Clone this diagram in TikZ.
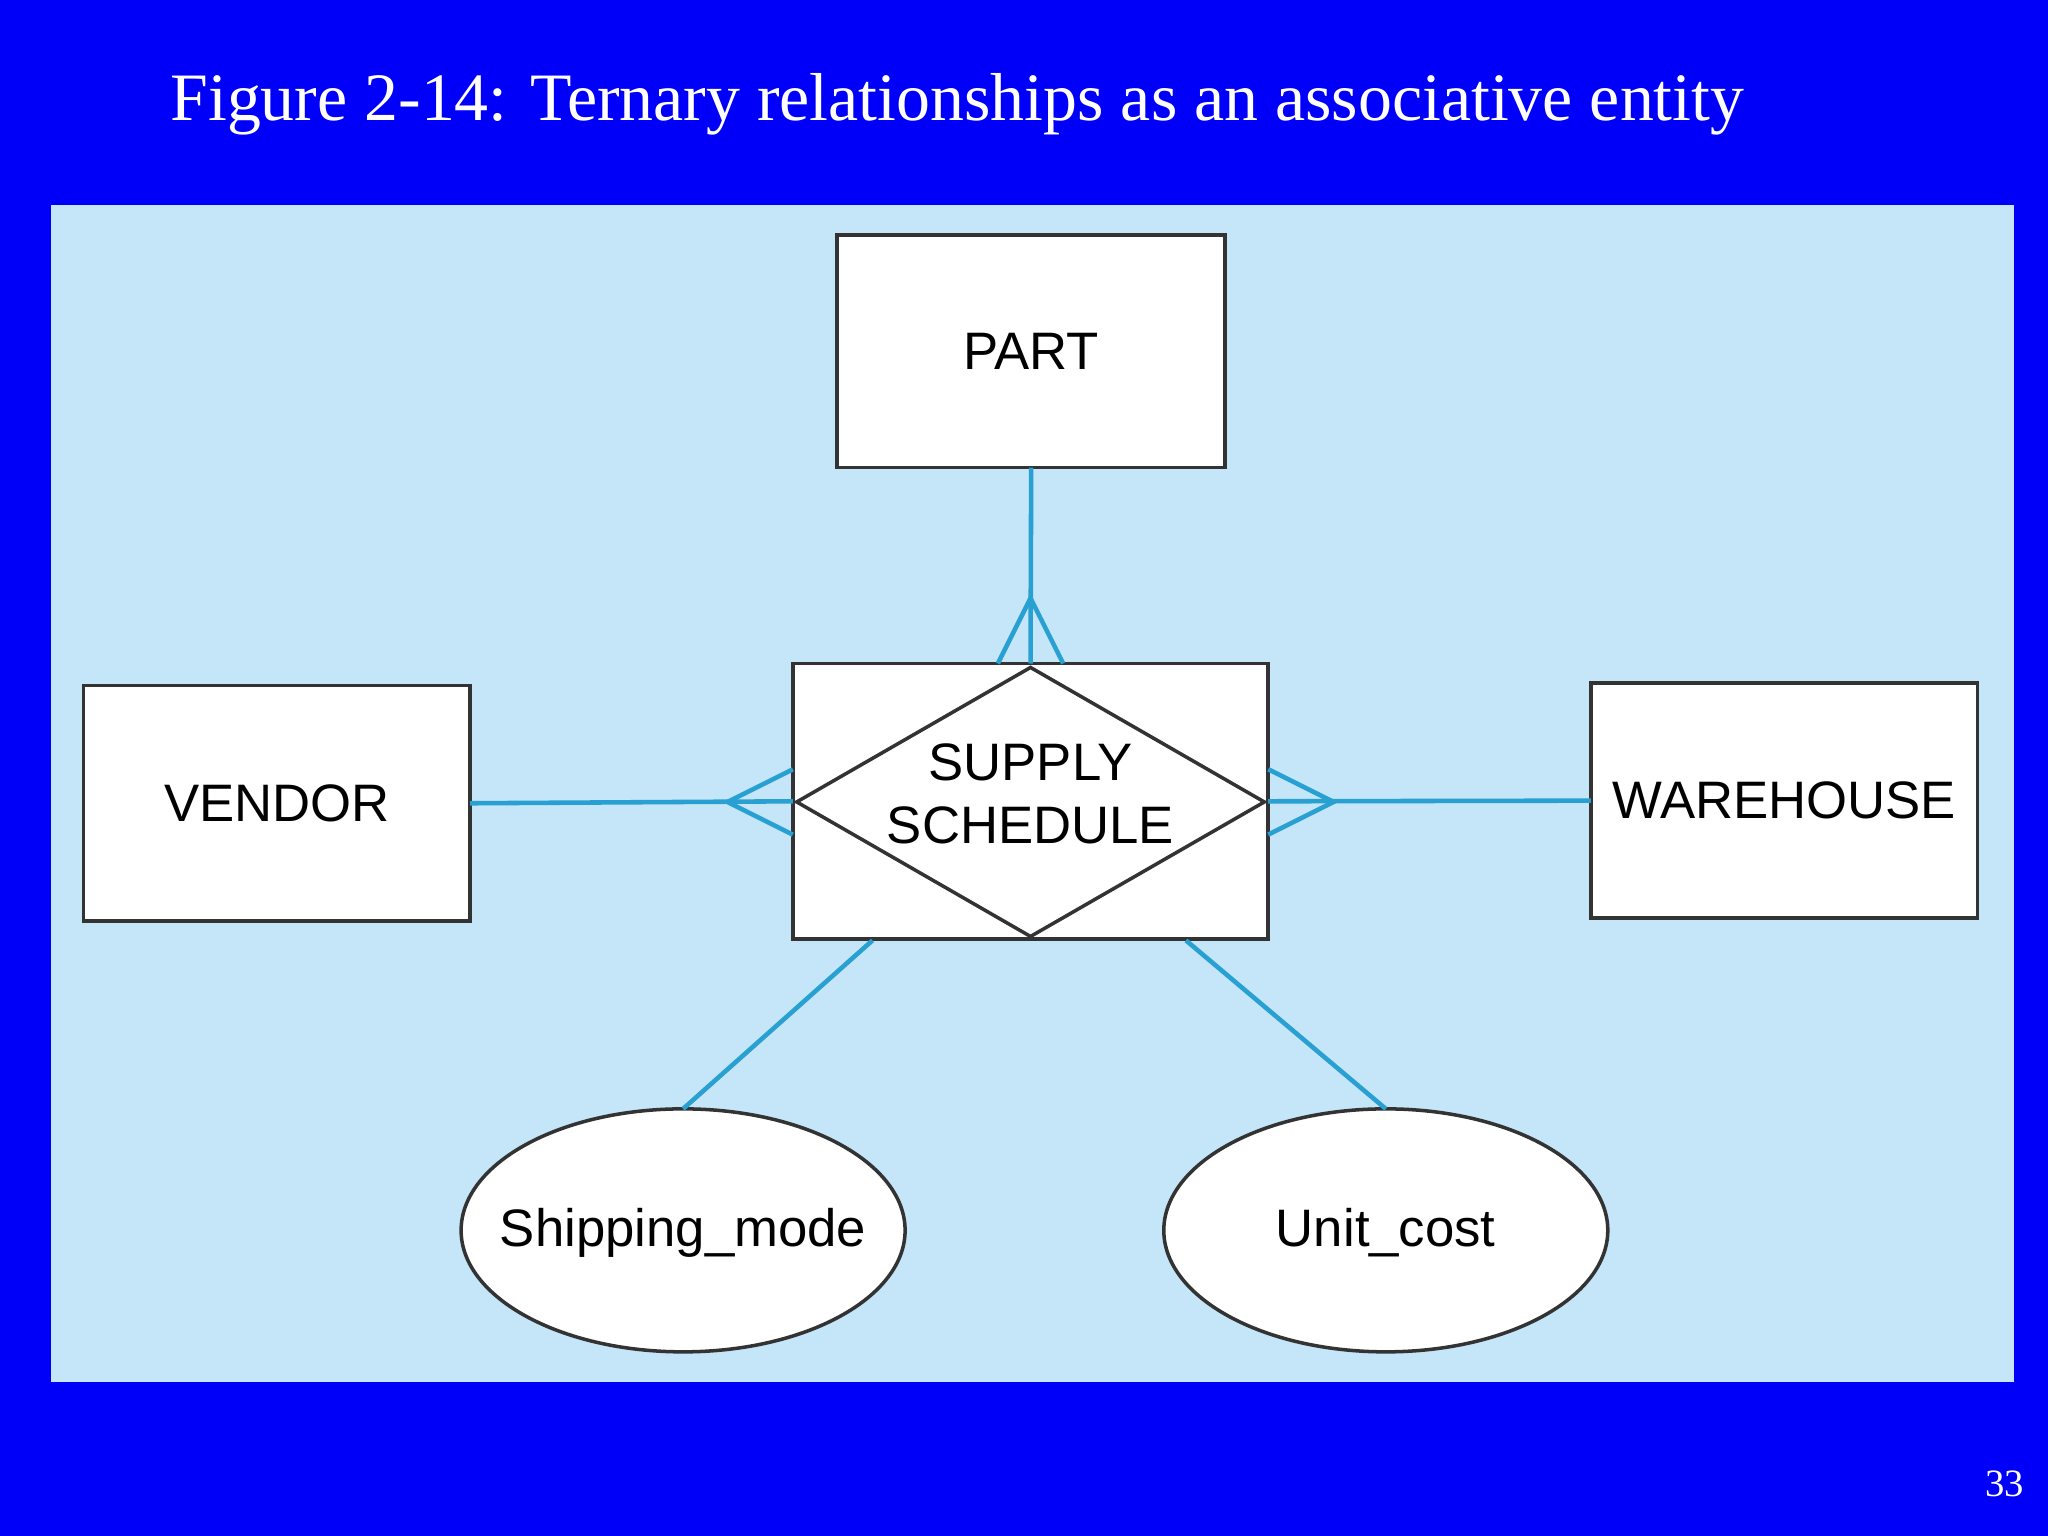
\documentclass[tikz,border=0pt]{standalone}
\usepackage{fontspec}
\setmainfont{Liberation Serif}
\newfontfamily\erfont{Liberation Sans}
\usetikzlibrary{shapes.geometric}
\definecolor{slideblue}{RGB}{0,0,250}
\definecolor{panel}{RGB}{197,229,248}
\definecolor{conn}{RGB}{40,160,210}
\begin{document}
\begin{tikzpicture}[x=0.013061cm,y=-0.013061cm,
  ent/.style={draw=black!80,fill=white,line width=1pt,inner sep=0pt,outer sep=0pt},
  lbl/.style={font=\erfont\fontsize{15pt}{18pt}\selectfont,align=center,inner sep=0pt},
  con/.style={draw=conn,line width=1.3pt}]
\fill[slideblue] (0,0) rectangle (1568,1176);
\useasboundingbox (0,0) rectangle (1568,1176);
\fill[panel] (39,157) rectangle (1542,1058);
\node[anchor=base west,text=white,font=\fontsize{19.3pt}{23pt}\selectfont,inner sep=0pt] (title) at (130,92) {Figure 2-14: Ternary relationships as an associative entity};
\node[anchor=base east,text=white,font=\fontsize{11pt}{13pt}\selectfont,inner sep=0pt] (num) at (1550,1146) {33};
\node[ent,lbl,minimum width=3.879cm,minimum height=2.325cm] (part) at (789.5,269) {PART};
\node[ent,lbl,minimum width=3.866cm,minimum height=2.351cm] (vendor) at (212,615) {VENDOR};
\node[ent,lbl,minimum width=3.866cm,minimum height=2.351cm] (wh) at (1366,613) {WAREHOUSE};
\node[ent,minimum width=4.754cm,minimum height=2.756cm] (ss) at (789,613.5) {};
\node[diamond,draw=black!80,line width=1pt,minimum width=4.676cm,minimum height=2.69cm,inner sep=0pt,outer sep=0pt,aspect=1.74] (dia) at (789,614) {};
\node[lbl] (dialbl) at (789,608) {SUPPLY\\SCHEDULE};
\node[ent,ellipse,minimum width=4.44cm,minimum height=2.43cm] (ship) at (523,942) {};
\node[lbl] (shiplbl) at (523,944) {Shipping\_mode};
\node[ent,ellipse,minimum width=4.44cm,minimum height=2.43cm] (cost) at (1061,942) {};
\node[lbl] (costlbl) at (1061,944) {Unit\_cost};
% connectors
\draw[con] (part.south) -- (ss.north);
\coordinate (cp) at (789,458);
\draw[con] (764,508) -- (cp) -- (814,508);
\draw[con] (vendor.east) -- (ss.west);
\coordinate (cv) at (557,614);
\draw[con] (607,589) -- (cv) -- (607,639);
\draw[con] (ss.east) -- (wh.west);
\coordinate (cw) at (1021,614);
\draw[con] (971,589) -- (cw) -- (971,639);
\coordinate (s1) at (668,720);
\coordinate (s2) at (908,720);
\draw[con] (s1) -- (ship.north);
\draw[con] (s2) -- (cost.north);
\end{tikzpicture}
\end{document}
